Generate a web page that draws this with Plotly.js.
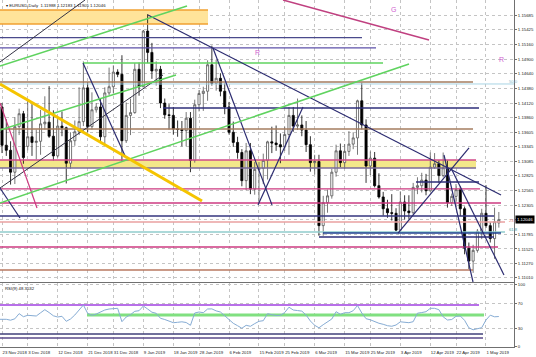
<!DOCTYPE html>
<html><head><meta charset="utf-8">
<script src="https://cdn.plot.ly/plotly-3.0.1.min.js"></script>
<style>html,body{margin:0;padding:0;background:#fff;overflow:hidden}</style>
</head><body><div id="chart" style="width:536px;height:357px"></div>
<script>
// ---- daily bars (EURUSD, Daily) ----
const dates = ['2018-11-22','2018-11-23','2018-11-26','2018-11-27','2018-11-28','2018-11-29','2018-11-30',
'2018-12-03','2018-12-04','2018-12-05','2018-12-06','2018-12-07','2018-12-10','2018-12-11','2018-12-12','2018-12-13','2018-12-14',
'2018-12-17','2018-12-18','2018-12-19','2018-12-20','2018-12-21','2018-12-24','2018-12-25','2018-12-26','2018-12-27','2018-12-28','2018-12-31',
'2019-01-01','2019-01-02','2019-01-03','2019-01-04','2019-01-07','2019-01-08','2019-01-09','2019-01-10','2019-01-11',
'2019-01-14','2019-01-15','2019-01-16','2019-01-17','2019-01-18','2019-01-21','2019-01-22','2019-01-23','2019-01-24','2019-01-25',
'2019-01-28','2019-01-29','2019-01-30','2019-01-31','2019-02-01','2019-02-04','2019-02-05','2019-02-06','2019-02-07','2019-02-08',
'2019-02-11','2019-02-12','2019-02-13','2019-02-14','2019-02-15','2019-02-18','2019-02-19','2019-02-20','2019-02-21','2019-02-22',
'2019-02-25','2019-02-26','2019-02-27','2019-02-28','2019-03-01','2019-03-04','2019-03-05','2019-03-06','2019-03-07','2019-03-08',
'2019-03-11','2019-03-12','2019-03-13','2019-03-14','2019-03-15','2019-03-18','2019-03-19','2019-03-20','2019-03-21','2019-03-22',
'2019-03-25','2019-03-26','2019-03-27','2019-03-28','2019-03-29','2019-04-01','2019-04-02','2019-04-03','2019-04-04','2019-04-05',
'2019-04-08','2019-04-09','2019-04-10','2019-04-11','2019-04-12','2019-04-15','2019-04-16','2019-04-17','2019-04-18','2019-04-19',
'2019-04-22','2019-04-23','2019-04-24','2019-04-25','2019-04-26','2019-04-29','2019-04-30','2019-05-01','2019-05-02','2019-05-03','2019-05-06'];

const open = [1.1375,1.1405,1.1337,1.1328,1.1289,1.1370,1.1393,
1.1335,1.1352,1.1342,1.1344,1.1375,1.1378,1.1353,1.1318,1.1371,1.1368,
1.1305,1.1345,1.1361,1.1379,1.1439,1.1370,1.1400,1.1405,1.1352,1.1430,1.1441,
1.1467,1.1463,1.1345,1.1390,1.1395,1.1472,1.1441,1.1540,1.1502,
1.1469,1.1472,1.1412,1.1391,1.1390,1.1366,1.1365,1.1363,1.1385,1.1310,
1.1409,1.1429,1.1433,1.1480,1.1447,1.1456,1.1433,1.1405,1.1360,1.1342,
1.1324,1.1274,1.1327,1.1259,1.1294,1.1296,1.1310,1.1343,1.1341,1.1338,
1.1334,1.1356,1.1390,1.1371,1.1373,1.1364,1.1338,1.1306,1.1308,1.1194,
1.1235,1.1247,1.1289,1.1327,1.1306,1.1326,1.1339,1.1350,1.1416,1.1373,
1.1300,1.1314,1.1265,1.1245,1.1224,1.1217,1.1216,1.1186,1.1236,1.1220,
1.1217,1.1262,1.1265,1.1275,1.1256,1.1298,1.1304,1.1283,1.1297,1.1235,
1.1246,1.1258,1.1224,1.1154,1.1131,1.1150,1.1184,1.1216,1.1194,1.1171,1.11988];

const high = [1.1427,1.1412,1.1383,1.1344,1.1387,1.1402,1.1398,
1.1419,1.1410,1.1365,1.1400,1.1424,1.1442,1.1399,1.1386,1.1397,1.1370,
1.1360,1.1381,1.1440,1.1486,1.1449,1.1431,1.1412,1.1420,1.1440,1.1475,1.1479,
1.1472,1.1497,1.1413,1.1420,1.1483,1.1484,1.1542,1.1570,1.1519,
1.1486,1.1478,1.1420,1.1410,1.1405,1.1381,1.1380,1.1396,1.1396,1.1418,
1.1435,1.1441,1.1488,1.1514,1.1489,1.1465,1.1447,1.1414,1.1379,1.1352,
1.1330,1.1341,1.1341,1.1307,1.1307,1.1322,1.1345,1.1370,1.1372,1.1358,
1.1370,1.1405,1.1405,1.1420,1.1390,1.1380,1.1353,1.1320,1.1320,1.1247,
1.1258,1.1295,1.1338,1.1340,1.1339,1.1362,1.1360,1.1418,1.1448,1.1383,
1.1326,1.1325,1.1287,1.1254,1.1240,1.1250,1.1225,1.1255,1.1248,1.1248,
1.1270,1.1280,1.1288,1.1286,1.1324,1.1323,1.1310,1.1324,1.1310,1.1251,
1.1268,1.1264,1.1228,1.1164,1.1160,1.1188,1.1224,1.1266,1.1200,1.1226,1.12183];

const low = [1.1370,1.1323,1.1318,1.1267,1.1268,1.1355,1.1304,
1.1328,1.1318,1.1312,1.1320,1.1365,1.1350,1.1310,1.1315,1.1353,1.1269,
1.1295,1.1336,1.1355,1.1371,1.1360,1.1365,1.1395,1.1343,1.1337,1.1426,1.1429,
1.1458,1.1309,1.1341,1.1355,1.1393,1.1425,1.1440,1.1483,1.1455,
1.1443,1.1403,1.1384,1.1365,1.1356,1.1352,1.1335,1.1335,1.1289,1.1306,
1.1397,1.1398,1.1416,1.1443,1.1434,1.1424,1.1392,1.1356,1.1334,1.1313,
1.1264,1.1257,1.1250,1.1249,1.1234,1.1268,1.1276,1.1323,1.1327,1.1305,
1.1327,1.1320,1.1361,1.1364,1.1353,1.1325,1.1290,1.1285,1.1176,1.1176,
1.1217,1.1242,1.1281,1.1298,1.1295,1.1318,1.1330,1.1320,1.1365,1.1270,
1.1284,1.1262,1.1242,1.1212,1.1208,1.1203,1.1184,1.1183,1.1205,1.1206,
1.1214,1.1250,1.1253,1.1248,1.1254,1.1295,1.1270,1.1280,1.1226,1.1229,
1.1236,1.1211,1.1143,1.1117,1.1110,1.1146,1.1170,1.1190,1.1164,1.1135,1.11905];

const close = [1.1405,1.1337,1.1328,1.1289,1.1370,1.1393,1.1315,
1.1352,1.1342,1.1344,1.1375,1.1378,1.1353,1.1318,1.1371,1.1368,1.1305,
1.1345,1.1361,1.1379,1.1439,1.1370,1.1400,1.1405,1.1352,1.1430,1.1441,1.1467,
1.1463,1.1345,1.1390,1.1395,1.1472,1.1441,1.1540,1.1502,1.1469,
1.1472,1.1412,1.1391,1.1390,1.1366,1.1365,1.1363,1.1385,1.1310,1.1409,
1.1429,1.1433,1.1480,1.1447,1.1456,1.1433,1.1405,1.1360,1.1342,1.1324,
1.1274,1.1327,1.1259,1.1294,1.1296,1.1310,1.1343,1.1341,1.1338,1.1334,
1.1356,1.1390,1.1371,1.1373,1.1364,1.1338,1.1306,1.1308,1.1194,1.1235,
1.1247,1.1289,1.1327,1.1306,1.1326,1.1339,1.1350,1.1416,1.1373,1.1300,
1.1314,1.1265,1.1245,1.1224,1.1217,1.1216,1.1186,1.1236,1.1220,1.1217,
1.1262,1.1265,1.1275,1.1256,1.1298,1.1304,1.1283,1.1297,1.1235,1.1246,
1.1258,1.1224,1.1154,1.1131,1.1150,1.1184,1.1216,1.1194,1.1171,1.1201,1.12046];

const rsi = [43.9,43.9,43.9,42.5,44.7,53,48.1,50.3,50.3,49.2,
54.3,59.3,54.7,49.5,47.6,48.7,40.7,44.4,50.8,58.3,
66.8,53.5,50.3,52.4,56.1,58.8,60.4,61,61.5,40.1,
47.6,51.3,56.7,57.7,65.2,60.4,55.3,53.5,45.5,43.6,
41.2,38.5,39.1,39.9,38.8,34.3,54,55.6,54.5,60.4,
60.6,57.4,55.6,49.7,42.3,37.5,33.7,29.6,34.3,32.7,
37,40.7,41.7,52.9,51.3,50,50.3,54.7,63.3,58.8,
57.9,57,50.8,41.2,34.3,30.3,35.3,39.9,44.4,56.1,
51.9,54.5,54.5,57.7,66,54,44.9,43.1,39.9,37.6,
35.9,33.7,32.8,34.8,39.9,38.9,38.5,40.1,53.7,54.7,
56.1,61.5,61.5,59.3,47.9,42.8,43.6,48.7,49.2,42.3,
30.3,27.2,28.4,30.5,42.8,50.5,47.9,48.35];

const tickDates = ['2018-11-23','2018-12-03','2018-12-12','2018-12-21','2018-12-31','2019-01-09','2019-01-18','2019-01-28','2019-02-06',
'2019-02-15','2019-02-25','2019-03-06','2019-03-15','2019-03-25','2019-04-03','2019-04-12','2019-04-22','2019-05-01'];
const tickLabels = ['23 Nov 2018','3 Dec 2018','12 Dec 2018','21 Dec 2018','31 Dec 2018','9 Jan 2019','18 Jan 2019','28 Jan 2019','6 Feb 2019',
'15 Feb 2019','25 Feb 2019','6 Mar 2019','15 Mar 2019','25 Mar 2019','3 Apr 2019','12 Apr 2019','22 Apr 2019','1 May 2019'];
const priceTicks = [1.15685,1.15425,1.15160,1.14900,1.14640,1.14380,1.14120,1.13860,1.13605,1.13345,1.13085,1.12825,1.12565,1.12305,1.12045,1.11785,1.11525,1.11270,1.11010];
const rsiTicks = [0,30,70,100];

// ---- drawn objects (bar index / price) ----
const levelPrice = [1.15282,1.15099,1.14832,1.14494,1.14459,1.14032,1.13658,1.12716,1.12592,1.12343,1.12112,1.12005,1.11827,1.11809,1.11738,1.11560,1.11151];
const levelFrom  = [0.53,0.53,19.91,0.53,0.53,38.59,0.53,97.66,0.53,0.53,0.53,0.53,0.53,75.95,75.01,0.53,0.53];
const levelTo    = [85.05,88.32,89.96,110.97,120.54,112.37,110.97,112.37,112.6,117.51,115.87,118.44,118.44,117.51,115.87,116.81,110.97];
const levelColor = ['#4a4a8c','#5d50a8','#5fd35f','#a57d5f','#a8d4e4','#2e2e7a','#a57d5f','#2e2e7a','#cc3a80','#cc3a80','#34347e','#eaa0a0','#90cccc','#1f3f8f','#2e2e7a','#cc3a80','#b87860'];
const levelWidth = [1.3,1.3,1.6,1.6,1,1.3,1.6,1.3,1.3,1.3,1.6,1.3,1.3,1.6,1.3,1.3,1.6];

const bandLow  = [1.15525,1.12965];
const bandHigh = [1.15774,1.13107];
const bandFrom = [0.53,0.53];
const bandTo   = [49.10,111.67];
const bandFill = ['#ffe49a','#f3e78a'];
const bandTopColor = ['#f0a030','#d04a8a'];
const bandBottomColor = ['#f0a030','#7a6a9a'];

const tlX0 = [35.09,50.26,60.77,0.53,0.53,0.53,0.53,19.91,0.53,0.53,0.53,0.53,66.61,104.2,105.83,93.46];
const tlP0 = [1.15685,1.15099,1.12307,1.12609,1.14850,1.14121,1.12609,1.14832,1.14779,1.13641,1.12343,1.14459,1.15952,1.13196,1.12965,1.11809];
const tlX1 = [117.51,64.04,71.28,38.59,20.38,9.17,5.20,29.95,44.19,41.62,96.03,47.70,100.7,110.97,118.2,110.04];
const tlP1 = [1.12485,1.12307,1.14050,1.14619,1.15952,1.12254,1.12076,1.13143,1.15845,1.14619,1.14814,1.12378,1.15241,1.10938,1.11063,1.13321];
const tlColor = ['#2b2b70','#2b2b70','#2b2b70','#333344','#333344','#cc3a80','#2b2b70','#2b2b70','#5fd35f','#5fd35f','#5fd35f','#f5c400','#c04080','#2b2b70','#2b2b70','#2b2b70'];
const tlWidth = [1.2,1.2,1.2,1,1,1.2,1.2,1.2,1.6,1.6,1.6,3,1.5,1.2,1.2,1.2];

const rsiLevel = [66.8,50.8,20.4,14];
const rsiFrom  = [0.53,20.85,0.53,0.53];
const rsiTo    = [112.37,113.54,113.3,113.3];
const rsiLevelColor = ['#a040e0','#80e080','#40407a','#5a4a8a'];
const rsiLevelWidth = [1.5,3,1.5,1.5];

const markText = ['G','R','R','50.0','23.6','61.8'];
const markX = [92.5,60.54,117.7,118.9,118.9,118.9];
const markP = [1.15792,1.15027,1.14903,1.14500,1.12040,1.11880];
const markColor = ['#d060d0','#d060d0','#d060d0','#80b8c8','#e08080','#3a9a9a'];

const header = '\u25BE EURUSD,Daily  1.11988 1.12183 1.11905 1.12046';
const rsiName = 'RSI(9) 48.3532';
const lastPrice = 1.12046;

// ---- build ----
const F = 'Liberation Sans, Arial, sans-serif';
const shapes = [];
for (let i = 0; i < bandLow.length; i++) {
  shapes.push({type:'rect', xref:'x', yref:'y', x0:bandFrom[i], x1:bandTo[i], y0:bandLow[i], y1:bandHigh[i],
    fillcolor:bandFill[i], line:{width:0}, layer:'between'});
  shapes.push({type:'line', xref:'x', yref:'y', x0:bandFrom[i], x1:bandTo[i], y0:bandHigh[i], y1:bandHigh[i], line:{color:bandTopColor[i], width:1.5}});
  shapes.push({type:'line', xref:'x', yref:'y', x0:bandFrom[i], x1:bandTo[i], y0:bandLow[i], y1:bandLow[i], line:{color:bandBottomColor[i], width:1.5}});
}
for (let i = 0; i < levelPrice.length; i++) {
  shapes.push({type:'line', xref:'x', yref:'y', x0:levelFrom[i], x1:levelTo[i], y0:levelPrice[i], y1:levelPrice[i],
    line:{color:levelColor[i], width:levelWidth[i]}});
}
for (let i = 0; i < tlX0.length; i++) {
  shapes.push({type:'line', xref:'x', yref:'y', x0:tlX0[i], x1:tlX1[i], y0:tlP0[i], y1:tlP1[i],
    line:{color:tlColor[i], width:tlWidth[i]}});
}
for (let i = 0; i < rsiLevel.length; i++) {
  shapes.push({type:'line', xref:'x2', yref:'y2', x0:rsiFrom[i], x1:rsiTo[i], y0:rsiLevel[i], y1:rsiLevel[i],
    line:{color:rsiLevelColor[i], width:rsiLevelWidth[i]}, layer:'between'});
}

const annotations = [];
for (let i = 0; i < markText.length; i++) {
  annotations.push({xref:'x', yref:'y', x:markX[i], y:markP[i], text:markText[i], showarrow:false,
    font:{family:F, size:i<3?7:4.2, color:markColor[i]}, xanchor:i<3?'center':'left', yanchor:'middle'});
}
annotations.push({xref:'paper', yref:'paper', x:4/536, y:1-1/357, xanchor:'left', yanchor:'top', text:header, showarrow:false,
  font:{family:F, size:4.3, color:'#111'}});
annotations.push({xref:'paper', yref:'paper', x:3/536, y:1-284/357, xanchor:'left', yanchor:'top', text:rsiName, showarrow:false,
  font:{family:F, size:4.3, color:'#111'}});
annotations.push({xref:'paper', yref:'y', x:515/536, y:lastPrice, xanchor:'left', yanchor:'middle', text:lastPrice.toFixed(5), showarrow:false,
  bgcolor:'#000', borderpad:1, font:{family:F, size:4.3, color:'#fff'}});

const traces = [
  {type:'candlestick', x:dates, open:open, high:high, low:low, close:close, xaxis:'x', yaxis:'y', hoverinfo:'skip',
   increasing:{line:{color:'#555555', width:0.8}, fillcolor:'#ffffff'},
   decreasing:{line:{color:'#000000', width:0.8}, fillcolor:'#000000'}, whiskerwidth:0},
  {type:'scatter', mode:'lines', x:dates, y:rsi, xaxis:'x2', yaxis:'y2', hoverinfo:'skip',
   line:{color:'#86acd4', width:1}}
];

const grid = {showgrid:true, gridcolor:'#c4c4c4', griddash:'dot', gridwidth:1, zeroline:false};
const layout = {
  width:536, height:357, margin:{l:0,r:0,t:0,b:0,pad:0}, showlegend:false,
  paper_bgcolor:'#ffffff', plot_bgcolor:'#ffffff', shapes:shapes, annotations:annotations,
  font:{family:F, size:4.3, color:'#222'},
  xaxis:Object.assign({type:'category', domain:[0, 514/536], anchor:'y', range:[0.532,120.54], autorange:false,
    tickvals:tickDates, showticklabels:false, ticks:'', showline:true, linecolor:'#707070', linewidth:1,
    rangeslider:{visible:false}}, grid),
  xaxis2:Object.assign({type:'category', domain:[0, 514/536], anchor:'y2', matches:'x', range:[0.532,120.54], autorange:false,
    tickvals:tickDates, ticktext:tickLabels, tickangle:0, ticklabelposition:'outside right', ticks:'', ticklabelstandoff:1,
    tickfont:{family:F, size:4.3, color:'#222'},
    showline:true, mirror:true, linecolor:'#707070', linewidth:1}, grid),
  yaxis:Object.assign({domain:[1-282/357, 1], anchor:'x', side:'right', range:[1.10938,1.15952], autorange:false,
    tickvals:priceTicks, tickformat:'.5f', ticks:'outside', ticklen:2, tickcolor:'#707070',
    tickfont:{family:F, size:4.3, color:'#222'}, showline:true, linecolor:'#707070', linewidth:1}, grid),
  yaxis2:Object.assign({domain:[1-347/357, 1-283/357], anchor:'x2', side:'right', range:[-0.4,102], autorange:false,
    tickvals:rsiTicks, ticks:'outside', ticklen:2, tickcolor:'#707070',
    tickfont:{family:F, size:4.3, color:'#222'}, showline:true, linecolor:'#707070', linewidth:1}, grid)
};

Plotly.newPlot('chart', traces, layout, {staticPlot:true, displayModeBar:false});
</script>
</body></html>
